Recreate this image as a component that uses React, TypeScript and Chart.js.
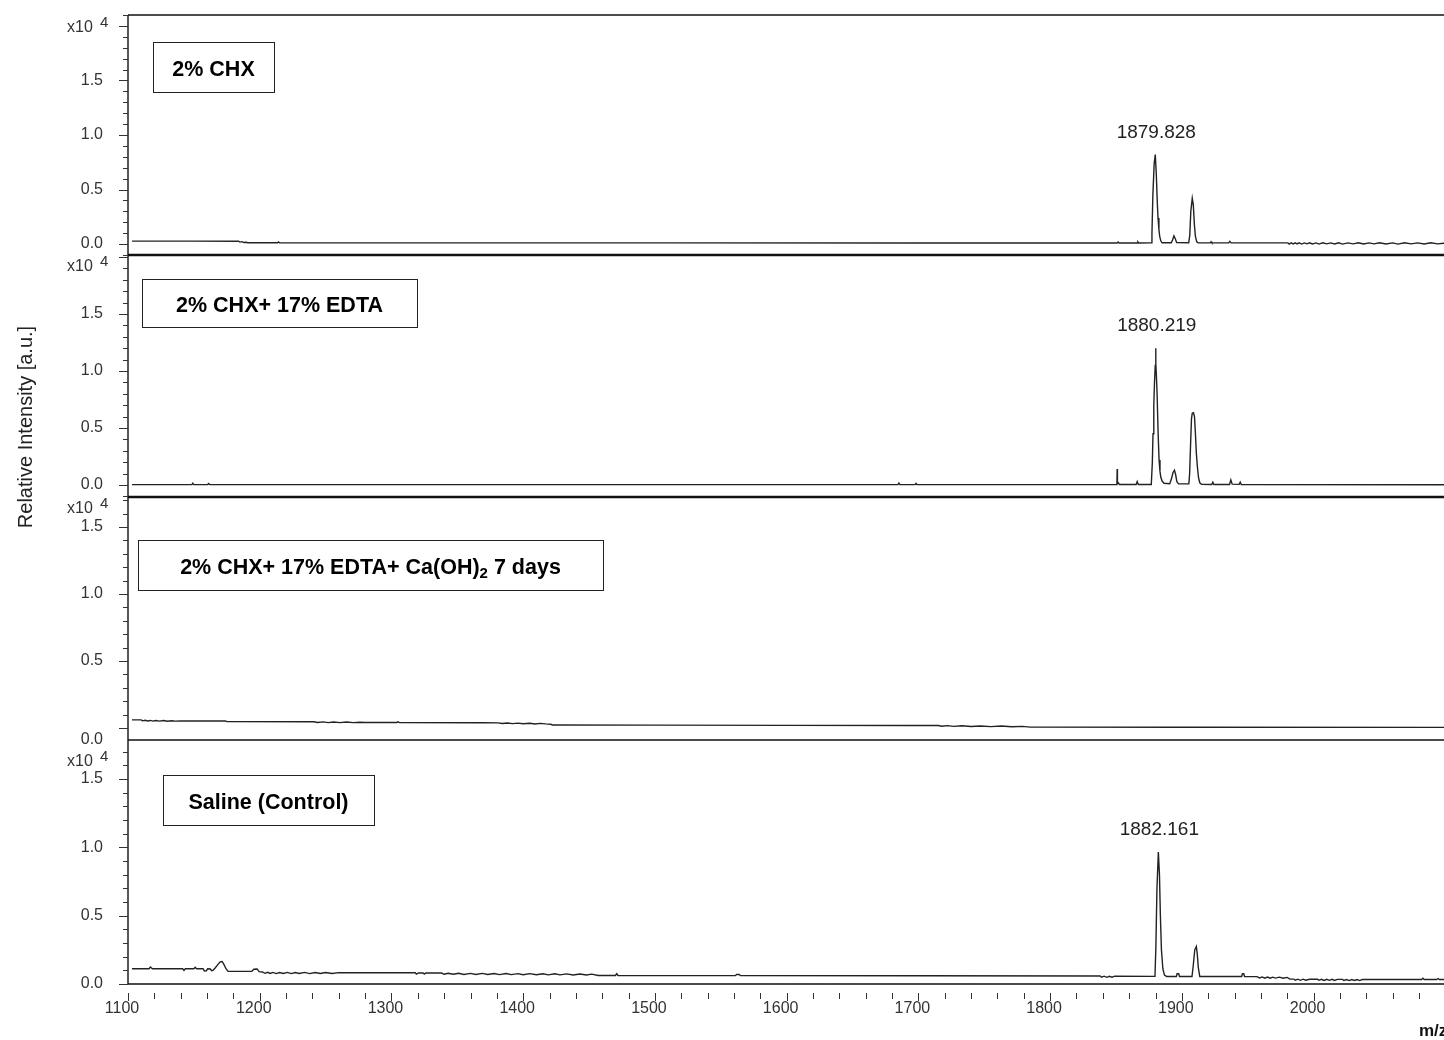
import { useEffect, useRef } from 'react';
import { Chart, registerables } from 'chart.js';

Chart.register(...registerables);

type Pt = [number, number];

// m/z window of the spectra
const MZ_MIN = 1100;
const MZ_MAX = 2099;

// labelled monoisotopic peaks
const chxApex = 1879.828;
const chxEdtaApex = 1880.219;
const salineApex = 1882.161;

// x-axis ticks (m/z) and y-axis ticks (x10^4 a.u.)
const mzTickStep = 20;
const mzLabelStep = 100;
const intensityLabels = [0, 0.5, 1.0, 1.5];

const panelTitles = ['2% CHX', '2% CHX+ 17% EDTA', '2% CHX+ 17% EDTA+ Ca(OH)₂ 7 days', 'Saline (Control)'];

// 2% CHX
const chxSpectrum: Pt[] = [
  [1103, 0.027], [1150, 0.027], [1184, 0.026], [1185, 0.018], [1186.5, 0.022], [1188, 0.014], [1190, 0.017], [1191, 0.012],
  [1213.5, 0.012], [1214.2, 0.02], [1215, 0.012],
  [1500, 0.011], [1700, 0.01], [1850.8, 0.01], [1851.6, 0.02], [1852.4, 0.01],
  [1866, 0.01], [1866.6, 0.02], [1867.2, 0.01],
  [1876.6, 0.011], [1877.3, 0.1], [1878.0, 0.45], [1879.0, 0.74], [chxApex, 0.82], [1880.6, 0.64], [1881.3, 0.4],
  [1881.9, 0.24], [1882.6, 0.13], [1883.2, 0.07], [1884, 0.03], [1885, 0.012],
  [1892, 0.012], [1893, 0.04], [1894, 0.076], [1895, 0.05], [1896, 0.014],
  [1905.2, 0.012], [1906.0, 0.08], [1906.8, 0.3], [1907.9, 0.42], [1908.7, 0.36], [1909.5, 0.18], [1910.3, 0.07],
  [1911.3, 0.02], [1912.5, 0.011],
  [1921.6, 0.011], [1922.2, 0.022], [1922.8, 0.011],
  [1935.6, 0.011], [1936.4, 0.025], [1937.4, 0.011],
  [1980.5, 0.011], [1981.5, 0.0], [1983, 0.012], [1984.5, 0.001], [1986, 0.011], [1987.5, 0.002], [1989, 0.012],
  [1991, 0.0], [1993, 0.011], [1995, 0.002], [1997, 0.012], [1999, 0.001], [2002, 0.011], [2004, 0.0], [2007, 0.012],
  [2010, 0.002], [2013, 0.011], [2016, 0.001], [2019, 0.012], [2022, 0.0], [2026, 0.011], [2030, 0.002], [2034, 0.012],
  [2038, 0.001], [2042, 0.011], [2046, 0.002], [2050, 0.012], [2055, 0.001], [2060, 0.011], [2064, 0.0], [2069, 0.012],
  [2074, 0.002], [2079, 0.011], [2084, 0.001], [2089, 0.012], [2094, 0.002], [2099, 0.008],
];

// 2% CHX + 17% EDTA
const chxEdtaSpectrum: Pt[] = [
  [1103, 0.004], [1148.5, 0.004], [1149.2, 0.016], [1150, 0.004], [1160.5, 0.004], [1161.2, 0.013], [1162, 0.004],
  [1684.5, 0.004], [1685.2, 0.018], [1686, 0.004], [1697.5, 0.004], [1698.2, 0.014], [1699, 0.004],
  [1850.7, 0.004], [1850.9, 0.14], [1851.1, 0.012], [1851.8, 0.02], [1852.6, 0.005],
  [1865.3, 0.005], [1866.1, 0.03], [1866.9, 0.005],
  [1876.8, 0.005], [1877.6, 0.2], [1878.1, 0.45], [1878.7, 0.7], [1879.2, 0.89], [1879.8, 1.05], [1880.15, 1.08],
  [chxEdtaApex, 1.2], [1880.3, 1.07], [1880.7, 0.95], [1881.2, 0.8], [1882.0, 0.45], [1882.7, 0.22], [1883.4, 0.12],
  [1884.0, 0.07], [1885.0, 0.035], [1886.5, 0.015],
  [1890.8, 0.012], [1892, 0.05], [1893.3, 0.11], [1894.4, 0.13], [1895.3, 0.09], [1896.2, 0.03], [1897.5, 0.01],
  [1905.3, 0.01], [1905.9, 0.1], [1906.6, 0.35], [1907.3, 0.58], [1907.9, 0.63], [1908.8, 0.635], [1909.6, 0.6],
  [1910.3, 0.45], [1911.0, 0.28], [1911.8, 0.16], [1912.6, 0.07], [1913.6, 0.02], [1915, 0.006],
  [1922.7, 0.005], [1923.5, 0.025], [1924.3, 0.005],
  [1936.2, 0.005], [1937.2, 0.045], [1938.2, 0.008], [1943.5, 0.006], [1944.3, 0.025], [1945.1, 0.004],
  [2099, 0.003],
];

// 2% CHX + 17% EDTA + Ca(OH)2, 7 days
const chxEdtaCaSpectrum: Pt[] = [
  [1103, 0.06], [1110, 0.06], [1111, 0.053], [1113, 0.057], [1115, 0.052], [1117, 0.056], [1119, 0.051], [1121, 0.055],
  [1124, 0.051], [1127, 0.055], [1130, 0.05], [1133, 0.054], [1136, 0.051], [1140, 0.053], [1150, 0.052],
  [1174, 0.052], [1175, 0.047], [1241, 0.046], [1244, 0.041], [1248, 0.045], [1252, 0.04], [1256, 0.044], [1261, 0.04],
  [1266, 0.044], [1271, 0.04], [1276, 0.043], [1280, 0.041], [1304, 0.041], [1305, 0.046], [1306, 0.04],
  [1369, 0.039], [1381, 0.038], [1384, 0.033], [1388, 0.037], [1392, 0.032], [1396, 0.036], [1400, 0.031], [1405, 0.035],
  [1409, 0.03], [1413, 0.034], [1417, 0.03], [1421, 0.028], [1422, 0.022],
  [1500, 0.021], [1600, 0.019], [1690, 0.018], [1715, 0.018], [1718, 0.013], [1722, 0.017], [1727, 0.012],
  [1733, 0.016], [1740, 0.011], [1747, 0.015], [1755, 0.01], [1763, 0.014], [1771, 0.009], [1779, 0.012],
  [1785, 0.006], [1900, 0.005], [2099, 0.004],
];

// Saline (control)
const salineSpectrum: Pt[] = [
  [1103, 0.112], [1116, 0.112], [1117, 0.125], [1118.5, 0.112],
  [1141.5, 0.112], [1142.5, 0.1], [1143.5, 0.112], [1150, 0.112], [1151, 0.122], [1152, 0.112],
  [1157, 0.112], [1158, 0.095], [1159.5, 0.097], [1160.5, 0.112], [1162.5, 0.11], [1163.5, 0.098], [1164.5, 0.1],
  [1166, 0.115], [1168, 0.14], [1170, 0.162], [1171.5, 0.165], [1173, 0.14], [1174.5, 0.11], [1176, 0.092],
  [1194, 0.092], [1195.5, 0.108], [1198, 0.11], [1199.5, 0.09],
  [1202, 0.088], [1204, 0.078], [1206, 0.086], [1208, 0.077], [1210, 0.085], [1212.5, 0.076], [1215, 0.084],
  [1218, 0.077], [1221, 0.085], [1224, 0.076], [1227, 0.084], [1230, 0.077], [1234, 0.085], [1238, 0.076],
  [1242, 0.084], [1246, 0.077], [1250, 0.084], [1255, 0.077], [1260, 0.083], [1265, 0.082],
  [1318, 0.082], [1319, 0.072], [1320.5, 0.081], [1324, 0.081], [1325, 0.072], [1326, 0.08],
  [1338, 0.08], [1340, 0.071], [1343, 0.079], [1347, 0.071], [1351, 0.079], [1355, 0.07], [1360, 0.078],
  [1364, 0.07], [1369, 0.078], [1373, 0.07], [1378, 0.077], [1382, 0.069], [1387, 0.077], [1391, 0.069],
  [1396, 0.076], [1400, 0.068], [1405, 0.076], [1410, 0.068], [1415, 0.075], [1419, 0.067], [1424, 0.075],
  [1428, 0.067], [1433, 0.074], [1438, 0.066], [1443, 0.073], [1448, 0.066], [1452, 0.072], [1457, 0.062],
  [1470, 0.062], [1471, 0.075], [1472, 0.062],
  [1561, 0.061], [1562, 0.07], [1564, 0.07], [1565, 0.061],
  [1700, 0.06], [1838, 0.058], [1839, 0.05], [1841, 0.057], [1843, 0.049], [1845, 0.056], [1847, 0.05],
  [1849, 0.057], [1879.6, 0.056],
  [1880.3, 0.28], [1881.1, 0.7], [salineApex, 0.965], [1883.0, 0.8], [1883.7, 0.5], [1884.5, 0.25],
  [1885.6, 0.11], [1886.8, 0.065], [1888.5, 0.055],
  [1895.8, 0.055], [1896.4, 0.075], [1897.6, 0.075], [1898.2, 0.055],
  [1907.7, 0.055], [1908.6, 0.13], [1909.8, 0.25], [1911.0, 0.275], [1911.7, 0.22], [1912.5, 0.12], [1913.6, 0.055],
  [1945.4, 0.055], [1946, 0.075], [1947, 0.075], [1947.6, 0.055],
  [1957, 0.054], [1959, 0.044], [1961, 0.052], [1963, 0.043], [1965, 0.051], [1967, 0.042], [1969, 0.05],
  [1971, 0.043], [1974, 0.05], [1977, 0.042], [1980, 0.048], [1982, 0.036],
  [1985, 0.036], [1986, 0.028], [1988, 0.035], [1990, 0.027], [1992, 0.035], [1994, 0.028], [1997, 0.035],
  [2003, 0.035], [2004, 0.027], [2006, 0.034], [2008, 0.026], [2010, 0.034], [2012, 0.027], [2014, 0.034],
  [2016, 0.026], [2018, 0.034],
  [2022, 0.034], [2023, 0.026], [2025, 0.033], [2027, 0.025], [2029, 0.033], [2031, 0.026], [2033, 0.033],
  [2035, 0.025], [2037, 0.033],
  [2082, 0.033], [2083, 0.042], [2084, 0.033], [2093.5, 0.033], [2094.5, 0.04], [2095.5, 0.033], [2099, 0.033],
];

const spectra = [chxSpectrum, chxEdtaSpectrum, chxEdtaCaSpectrum, salineSpectrum];
const apexes: (number | null)[] = [chxApex, chxEdtaApex, null, salineApex];

// panel geometry, top panel first
const panelIds = ['p1', 'p2', 'p3', 'p4'];
const panelRanges: [number, number][] = [[-0.1, 2.1], [-0.105, 2.018], [-0.09, 1.724], [0, 1.785]];
const panelWeights = [240, 242, 243, 244];
const frameWidths = [1.5, 2.6, 2.6, 1.3];
const exponentOffsets = [17, 16, 16, 26];
const titleBoxes = [
  { x: 153, dy: 27, w: 121, h: 50 },
  { x: 142, dy: 24, w: 275, h: 48 },
  { x: 138, dy: 43, w: 465, h: 50 },
  { x: 163, dy: 35, w: 211, h: 50 },
];

const FONT = '"Liberation Sans", Arial, sans-serif';

function drawTitle(ctx: CanvasRenderingContext2D, text: string, x: number, y: number) {
  // splits a subscript digit out of the title
  const parts: { t: string; sub: boolean }[] = [];
  for (const ch of text) {
    const sub = ch === '₂';
    const t = sub ? '2' : ch;
    const last = parts[parts.length - 1];
    if (last && last.sub === sub) last.t += t;
    else parts.push({ t, sub });
  }
  const main = `bold 21.5px ${FONT}`;
  const small = `bold 15px ${FONT}`;
  let total = 0;
  for (const p of parts) {
    ctx.font = p.sub ? small : main;
    total += ctx.measureText(p.t).width;
  }
  let cx = x - total / 2;
  ctx.textAlign = 'left';
  ctx.textBaseline = 'alphabetic';
  for (const p of parts) {
    ctx.font = p.sub ? small : main;
    ctx.fillText(p.t, cx, p.sub ? y + 4 : y);
    cx += ctx.measureText(p.t).width;
  }
}

const decorations = {
  id: 'spectrumDecorations',
  afterDraw(chart: any) {
    const ctx: CanvasRenderingContext2D = chart.ctx;
    const { left, right, top, bottom } = chart.chartArea;
    const xs = chart.scales.x;
    const ys = panelIds.map((id) => chart.scales[id]);
    ctx.save();

    // panel frames
    ctx.strokeStyle = '#111';
    ys.forEach((s: any, i: number) => {
      ctx.lineWidth = frameWidths[i];
      ctx.beginPath();
      ctx.moveTo(left, s.top);
      ctx.lineTo(right, s.top);
      ctx.stroke();
    });
    ctx.lineWidth = 1.4;
    ctx.beginPath();
    ctx.moveTo(left, top);
    ctx.lineTo(left, bottom);
    ctx.moveTo(left, bottom);
    ctx.lineTo(right, bottom);
    ctx.stroke();

    // intensity tick marks
    ctx.strokeStyle = '#333';
    ctx.lineWidth = 1;
    ys.forEach((s: any) => {
      for (const t of s.ticks) {
        const py = Math.round(s.getPixelForValue(t.value)) + 0.5;
        const major = Math.round(t.value * 10) % 5 === 0;
        ctx.beginPath();
        ctx.moveTo(left - (major ? 9 : 5), py);
        ctx.lineTo(left, py);
        ctx.stroke();
      }
    });

    // m/z tick marks, set below the axis line
    for (const t of xs.ticks) {
      const px = Math.round(xs.getPixelForValue(t.value)) + 0.5;
      const major = t.value % mzLabelStep === 0;
      ctx.beginPath();
      ctx.moveTo(px, bottom + 9);
      ctx.lineTo(px, bottom + (major ? 17 : 15));
      ctx.stroke();
    }

    // x10^4 exponent labels
    ctx.fillStyle = '#333';
    ctx.textAlign = 'left';
    ctx.textBaseline = 'alphabetic';
    ys.forEach((s: any, i: number) => {
      const base = s.top + exponentOffsets[i];
      ctx.font = `16px ${FONT}`;
      ctx.fillText('x10', 67, base);
      ctx.font = `15px ${FONT}`;
      ctx.fillText('4', 100, base - 5);
    });

    // the zero label of the third panel sits on its floor
    ctx.font = `16px ${FONT}`;
    ctx.textAlign = 'right';
    ctx.textBaseline = 'middle';
    ctx.fillText('0.0', left - 25, ys[2].bottom);

    // sample title boxes
    ctx.strokeStyle = '#222';
    ctx.lineWidth = 1;
    ctx.fillStyle = '#000';
    ys.forEach((s: any, i: number) => {
      const b = titleBoxes[i];
      const by = Math.round(s.top + b.dy) + 0.5;
      ctx.strokeRect(b.x + 0.5, by, b.w, b.h);
      drawTitle(ctx, panelTitles[i], b.x + b.w / 2, by + b.h / 2 + 8);
    });

    // peak labels
    ctx.fillStyle = '#222';
    ctx.font = `19px ${FONT}`;
    ctx.textAlign = 'center';
    ctx.textBaseline = 'alphabetic';
    apexes.forEach((mz, i) => {
      if (mz === null) return;
      const pt = spectra[i].find((p) => p[0] === mz);
      if (!pt) return;
      const px = xs.getPixelForValue(mz);
      const py = ys[i].getPixelForValue(pt[1]);
      ctx.fillText(mz.toFixed(3), px + 1, py - 17);
    });

    // axis titles
    ctx.fillStyle = '#222';
    ctx.font = `20px ${FONT}`;
    ctx.save();
    ctx.translate(26, 427);
    ctx.rotate(-Math.PI / 2);
    ctx.textAlign = 'center';
    ctx.textBaseline = 'middle';
    ctx.fillText('Relative Intensity [a.u.]', 0, 0);
    ctx.restore();

    ctx.font = `bold 17px ${FONT}`;
    ctx.textAlign = 'left';
    ctx.textBaseline = 'alphabetic';
    ctx.fillStyle = '#111';
    ctx.fillText('m/z', 1419, 1036);

    ctx.restore();
  },
};

export default function App() {
  const canvasRef = useRef<HTMLCanvasElement>(null);

  useEffect(() => {
    document.body.style.margin = '0';
    const canvas = canvasRef.current;
    if (!canvas) return;

    const scales: any = {
      x: {
        type: 'linear',
        position: 'bottom',
        min: MZ_MIN,
        max: MZ_MAX,
        afterBuildTicks: (s: any) => {
          const ticks = [];
          for (let v = MZ_MIN; v <= s.max; v += mzTickStep) ticks.push({ value: v });
          s.ticks = ticks;
        },
        afterFit: (s: any) => {
          s.height = 56;
          s.paddingLeft = 0;
          s.paddingRight = 0;
        },
        grid: { display: false, drawTicks: false },
        border: { display: false },
        ticks: {
          autoSkip: false,
          maxRotation: 0,
          padding: 15,
          labelOffset: -6,
          color: '#333',
          font: { family: FONT, size: 16 },
          callback: (v: number) => (v % mzLabelStep === 0 ? String(v) : ''),
        },
      },
    };

    // stacked axes are placed bottom-up, so the lowest panel is registered first
    for (let i = panelIds.length - 1; i >= 0; i--) {
      const [min, max] = panelRanges[i];
      scales[panelIds[i]] = {
        type: 'linear',
        position: 'left',
        stack: 'spectra',
        stackWeight: panelWeights[i],
        offset: false,
        min,
        max,
        afterBuildTicks: (s: any) => {
          const ticks = [];
          for (let k = Math.ceil(min * 10 - 1e-6); k <= Math.floor(max * 10 + 1e-6); k++) ticks.push({ value: k / 10 });
          s.ticks = ticks;
        },
        afterFit: (s: any) => {
          s.width = 128;
          s.paddingTop = 0;
          s.paddingBottom = 0;
        },
        grid: { display: false, drawTicks: false },
        border: { display: false },
        ticks: {
          autoSkip: false,
          padding: 25,
          color: '#333',
          font: { family: FONT, size: 16 },
          callback: (v: number) => {
            const shown = intensityLabels.some((l) => Math.abs(l - v) < 1e-6);
            if (!shown) return '';
            if (i === 2 && Math.abs(v) < 1e-6) return '';
            return v.toFixed(1);
          },
        },
      };
    }

    const chart = new Chart(canvas, {
      type: 'line',
      data: {
        datasets: spectra.map((pts, i) => ({
          data: pts.map(([x, y]) => ({ x, y })),
          xAxisID: 'x',
          yAxisID: panelIds[i],
          borderColor: '#222',
          borderWidth: 1.4,
          pointRadius: 0,
          tension: 0,
          fill: false,
        })),
      },
      options: {
        responsive: false,
        animation: false,
        devicePixelRatio: 1,
        events: [],
        layout: { padding: { top: 15, left: 0, right: 0, bottom: 0 } },
        plugins: { legend: { display: false }, tooltip: { enabled: false } },
        scales,
      },
      plugins: [decorations],
    } as any);

    return () => chart.destroy();
  }, []);

  return (
    <div style={{ width: 1444, height: 1040, background: '#fff' }}>
      <canvas ref={canvasRef} width={1444} height={1040} style={{ display: 'block', width: 1444, height: 1040 }} />
    </div>
  );
}
